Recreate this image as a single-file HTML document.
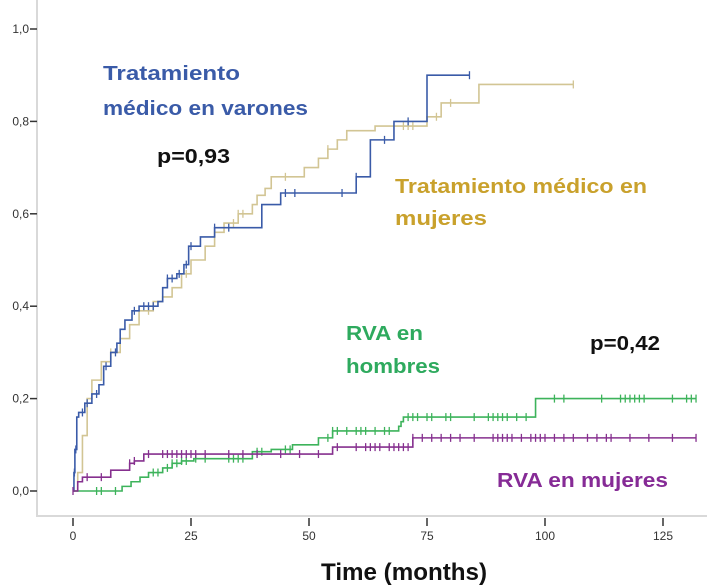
<!DOCTYPE html>
<html><head><meta charset="utf-8"><style>
body{margin:0;background:#fff;}
svg{display:block;font-family:"Liberation Sans",sans-serif;}
</style></head><body>
<svg id="chart" width="707" height="587" viewBox="0 0 707 587" xmlns="http://www.w3.org/2000/svg">
<g id="axes"></g>
<g id="series"></g>
<text x="103" y="80" font-size="20" font-weight="bold" fill="#3a5ba8" textLength="137" lengthAdjust="spacingAndGlyphs">Tratamiento</text>
<text x="103" y="115" font-size="20" font-weight="bold" fill="#3a5ba8" textLength="205" lengthAdjust="spacingAndGlyphs">médico en varones</text>
<text x="157" y="163" font-size="20" font-weight="bold" fill="#111" textLength="73" lengthAdjust="spacingAndGlyphs">p=0,93</text>
<text x="395" y="193" font-size="20" font-weight="bold" fill="#c9a12c" textLength="252" lengthAdjust="spacingAndGlyphs">Tratamiento médico en</text>
<text x="395" y="225" font-size="20" font-weight="bold" fill="#c9a12c" textLength="92" lengthAdjust="spacingAndGlyphs">mujeres</text>
<text x="346" y="340" font-size="20" font-weight="bold" fill="#2eaa5e" textLength="77" lengthAdjust="spacingAndGlyphs">RVA en</text>
<text x="346" y="373" font-size="20" font-weight="bold" fill="#2eaa5e" textLength="94" lengthAdjust="spacingAndGlyphs">hombres</text>
<text x="590" y="350" font-size="20" font-weight="bold" fill="#111" textLength="70" lengthAdjust="spacingAndGlyphs">p=0,42</text>
<text x="497" y="487" font-size="20" font-weight="bold" fill="#862b96" textLength="171" lengthAdjust="spacingAndGlyphs">RVA en mujeres</text>
<text x="321" y="580" font-size="24" font-weight="bold" fill="#111" textLength="166" lengthAdjust="spacingAndGlyphs">Time (months)</text>
</svg>
<script>
const xTicks = [0, 25, 50, 75, 100, 125];
const yTicks = [0, 0.2, 0.4, 0.6, 0.8, 1.0];
const yTickLabels = ["0,0", "0,2", "0,4", "0,6", "0,8", "1,0"];

const blueT = [0,0.2,0.4,0.8,1.2,2.5,4,5.5,6.5,8,9.3,10,11,12.5,14,18,19,20,22,23.5,24.5,27,30,40,44,60,63,68,75,84];
const blueV = [0,0.04,0.09,0.16,0.17,0.19,0.21,0.23,0.27,0.30,0.32,0.35,0.37,0.39,0.40,0.41,0.44,0.46,0.47,0.49,0.53,0.55,0.57,0.62,0.645,0.68,0.76,0.80,0.90,0.90];
const blueCens = [0.3,0.6,2,3,5,7,9,13,15,16,17,20,21,22.5,24,25,30,33,45,47,57,60,66,71,84];

const tanT = [0,1,2,3,4,6,8,10,12,14,17,19,21,23,25,28,30,32,35,38,39,40.7,42,49,52,54,56,58,64,75,78,86,106];
const tanV = [0,0.04,0.12,0.20,0.24,0.28,0.30,0.33,0.36,0.39,0.41,0.42,0.44,0.47,0.50,0.53,0.56,0.58,0.60,0.62,0.64,0.655,0.68,0.70,0.72,0.74,0.76,0.78,0.79,0.81,0.84,0.88,0.88];
const tanCens = [8,16,19,24,34,35,36,45,54,70,71,72,77,80,106];

const greenT = [0,9,10.4,12.3,14.2,16,19,21,23,25.6,38,42,46.5,52,55,69,69.5,70,71,98,132];
const greenV = [0,0,0.01,0.02,0.03,0.04,0.05,0.06,0.065,0.07,0.085,0.09,0.10,0.115,0.13,0.14,0.15,0.16,0.16,0.20,0.20];
const greenCens = [5,6,9,17,18,20,21,22,23,24,26,28,33,34,35,36,39,40,45,46,54,55,56,58,60,61,62,64,66,67,71,72,73,75,76,79,80,85,88,89,90,91,92,94,96,102,104,112,116,117,118,119,120,121,127,130,131,132];

const purpT = [0,1,2,8,12,13,15,55,72,132];
const purpV = [0,0.02,0.03,0.045,0.06,0.065,0.08,0.095,0.115,0.115];
const purpCens = [0,3,6,12,13,16,19,20,21,22,23,24,25,26,28,33,36,39,44,48,52,56,60,62,63,64,65,67,68,69,70,71,72,74,76,78,80,82,85,89,90,91,92,93,95,97,98,99,100,102,104,106,109,111,113,114,118,122,127,132];

function sx(t){ return 73 + t * 4.72; }
function sy(v){ return 491 - v * 462; }
const NS = "http://www.w3.org/2000/svg";
const axes = document.getElementById('axes');
const series = document.getElementById('series');
function mk(tag, attrs, parent){
  const el = document.createElementNS(NS, tag);
  for (const k in attrs) el.setAttribute(k, attrs[k]);
  parent.appendChild(el);
  return el;
}
let fr = mk('path', {d:'M37 0 V516 H707', fill:'none', stroke:'#d9d9d9', 'stroke-width':2}, axes);


yTicks.forEach((v, i) => {
  const t = mk('line', {x1:30, x2:37, y1:sy(v), y2:sy(v), stroke:'#333', 'stroke-width':1.5}, axes);
  
  
  const l = mk('text', {x:29, y:sy(v)+4, 'text-anchor':'end', 'font-size':12, fill:'#333'}, axes);
  l.textContent = yTickLabels[i];
  
  
});
xTicks.forEach(t => {
  const k = mk('line', {x1:sx(t), x2:sx(t), y1:518, y2:526, stroke:'#333', 'stroke-width':1.5}, axes);
  
  
  const l = mk('text', {x:sx(t), y:540, 'text-anchor':'middle', 'font-size':12, fill:'#333'}, axes);
  l.textContent = String(t);
  
  
});
function valueAt(T, V, t){
  let v = V[0];
  for (let i = 0; i < T.length; i++){ if (T[i] <= t) v = V[i]; }
  return v;
}
function drawSeries(T, V, C, color, name){
  let d = 'M' + sx(T[0]) + ' ' + sy(V[0]);
  for (let i = 1; i < T.length; i++){
    d += ' H' + sx(T[i]) + ' V' + sy(V[i]);
  }
  const p = mk('path', {d:d, fill:'none', stroke:color, 'stroke-width':1.6}, series);
  
  
  C.forEach(t => {
    const v = valueAt(T, V, t);
    const c = mk('line', {x1:sx(t), x2:sx(t), y1:sy(v)-4, y2:sy(v)+4, stroke:color, 'stroke-width':1.3}, series);
    
    
  });
}
drawSeries(tanT, tanV, tanCens, '#d2c594', 'medical-women');
drawSeries(blueT, blueV, blueCens, '#3a5ba8', 'medical-men');
drawSeries(greenT, greenV, greenCens, '#3db35b', 'rva-men');
drawSeries(purpT, purpV, purpCens, '#86308f', 'rva-women');
</script>
</body></html>
